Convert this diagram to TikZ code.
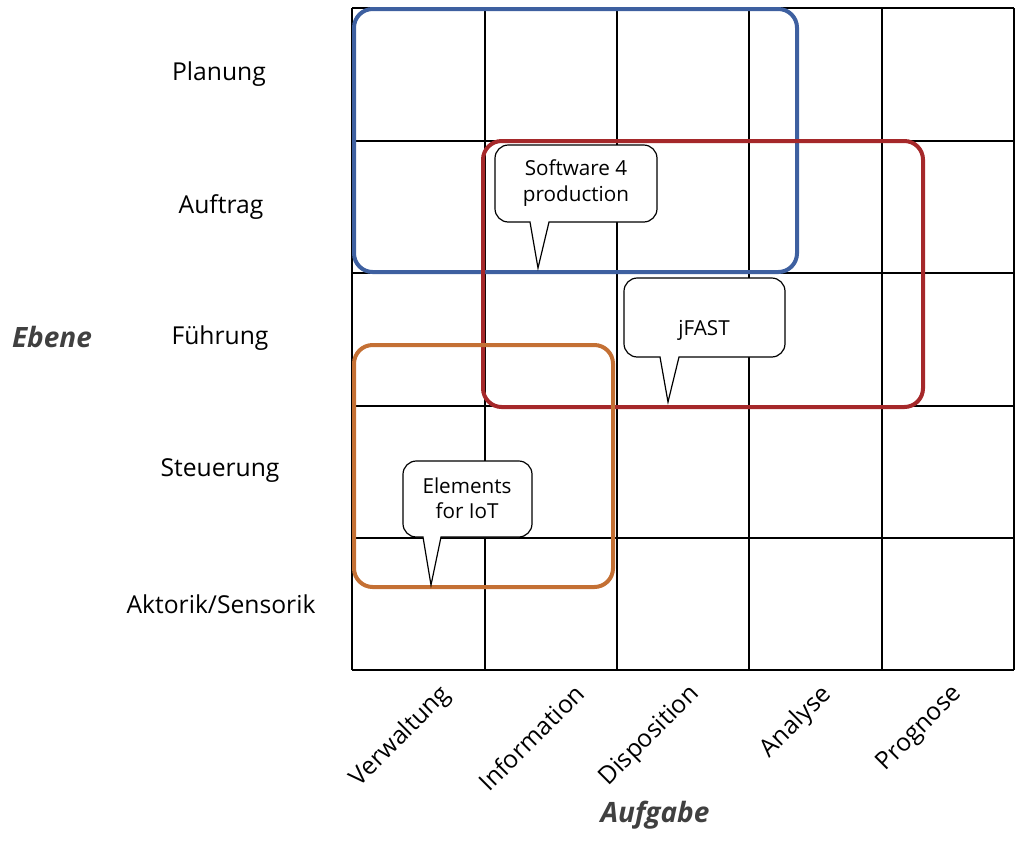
\documentclass[tikz,border=0pt]{standalone}
\usepackage{fontspec}
\setmainfont{Open Sans}
\begin{document}
\begin{tikzpicture}[x=0.75pt,y=-0.75pt,
  lab/.style={font=\fontsize{18.5}{22}\selectfont},
  ax/.style={font=\fontsize{21}{25}\selectfont\bfseries\itshape, text=black!75},
  frame/.style={line width=3pt, rounded corners=14pt},
  bub/.style={draw, line width=0.9pt, fill=white},
  btxt/.style={font=\fontsize{15.5}{19}\selectfont, align=center}]
\useasboundingbox (0,0) rectangle (1024,840);
\definecolor{cblue}{RGB}{62,96,160}
\definecolor{cred}{RGB}{165,40,42}
\definecolor{corange}{RGB}{196,112,52}
% grid
\foreach \x in {352,485,617,749,882,1014} \draw[line width=1pt] (\x,8) -- (\x,670);
\foreach \y in {8,141,273,406,538,670} \draw[line width=1pt] (352,\y) -- (1014,\y);
% row labels
\node[lab] (r1) at (219,74) {Planung};
\node[lab] (r2) at (221,207) {Auftrag};
\node[lab] (r3) at (220,338) {Führung};
\node[lab] (r4) at (220,471) {Steuerung};
\node[lab] (r5) at (221,604) {Aktorik/Sensorik};
\node[ax] (eb) at (52,337) {Ebene};
% column labels
\foreach \x/\t/\n in {438/Verwaltung/c1,573/Information/c2,687/Disposition/c3,819/Analyse/c4,950/Prognose/c5}
  \node[lab, rotate=45, anchor=north east, inner sep=0pt] (\n) at (\x,682) {\t};
\node[ax] (au) at (655,815) {Aufgabe};
% frames
\draw[frame, cblue] (354,9) rectangle (797,272);
\draw[frame, cred] (483,141) rectangle (923,407);
\draw[frame, corange] (354,345) rectangle (613,587);
% callouts
\draw[bub] (530,222) [rounded corners=10pt] -- (495,222) -- (495,145) -- (657,145) -- (657,222) [sharp corners] -- (549,222) -- (538,268) -- cycle;
\node[btxt] (s4p) at (576,183) {Software 4\\production};
\draw[bub] (660,357) [rounded corners=10pt] -- (624,357) -- (624,278) -- (785,278) -- (785,357) [sharp corners] -- (679,357) -- (668,402) -- cycle;
\node[btxt] (jf) at (704,330) {jFAST};
\draw[bub] (423,537) [rounded corners=10pt] -- (403,537) -- (403,461) -- (532,461) -- (532,537) [sharp corners] -- (441,537) -- (431,585) -- cycle;
\node[btxt] (iot) at (467,498) {Elements\\for IoT};
\end{tikzpicture}
\end{document}
